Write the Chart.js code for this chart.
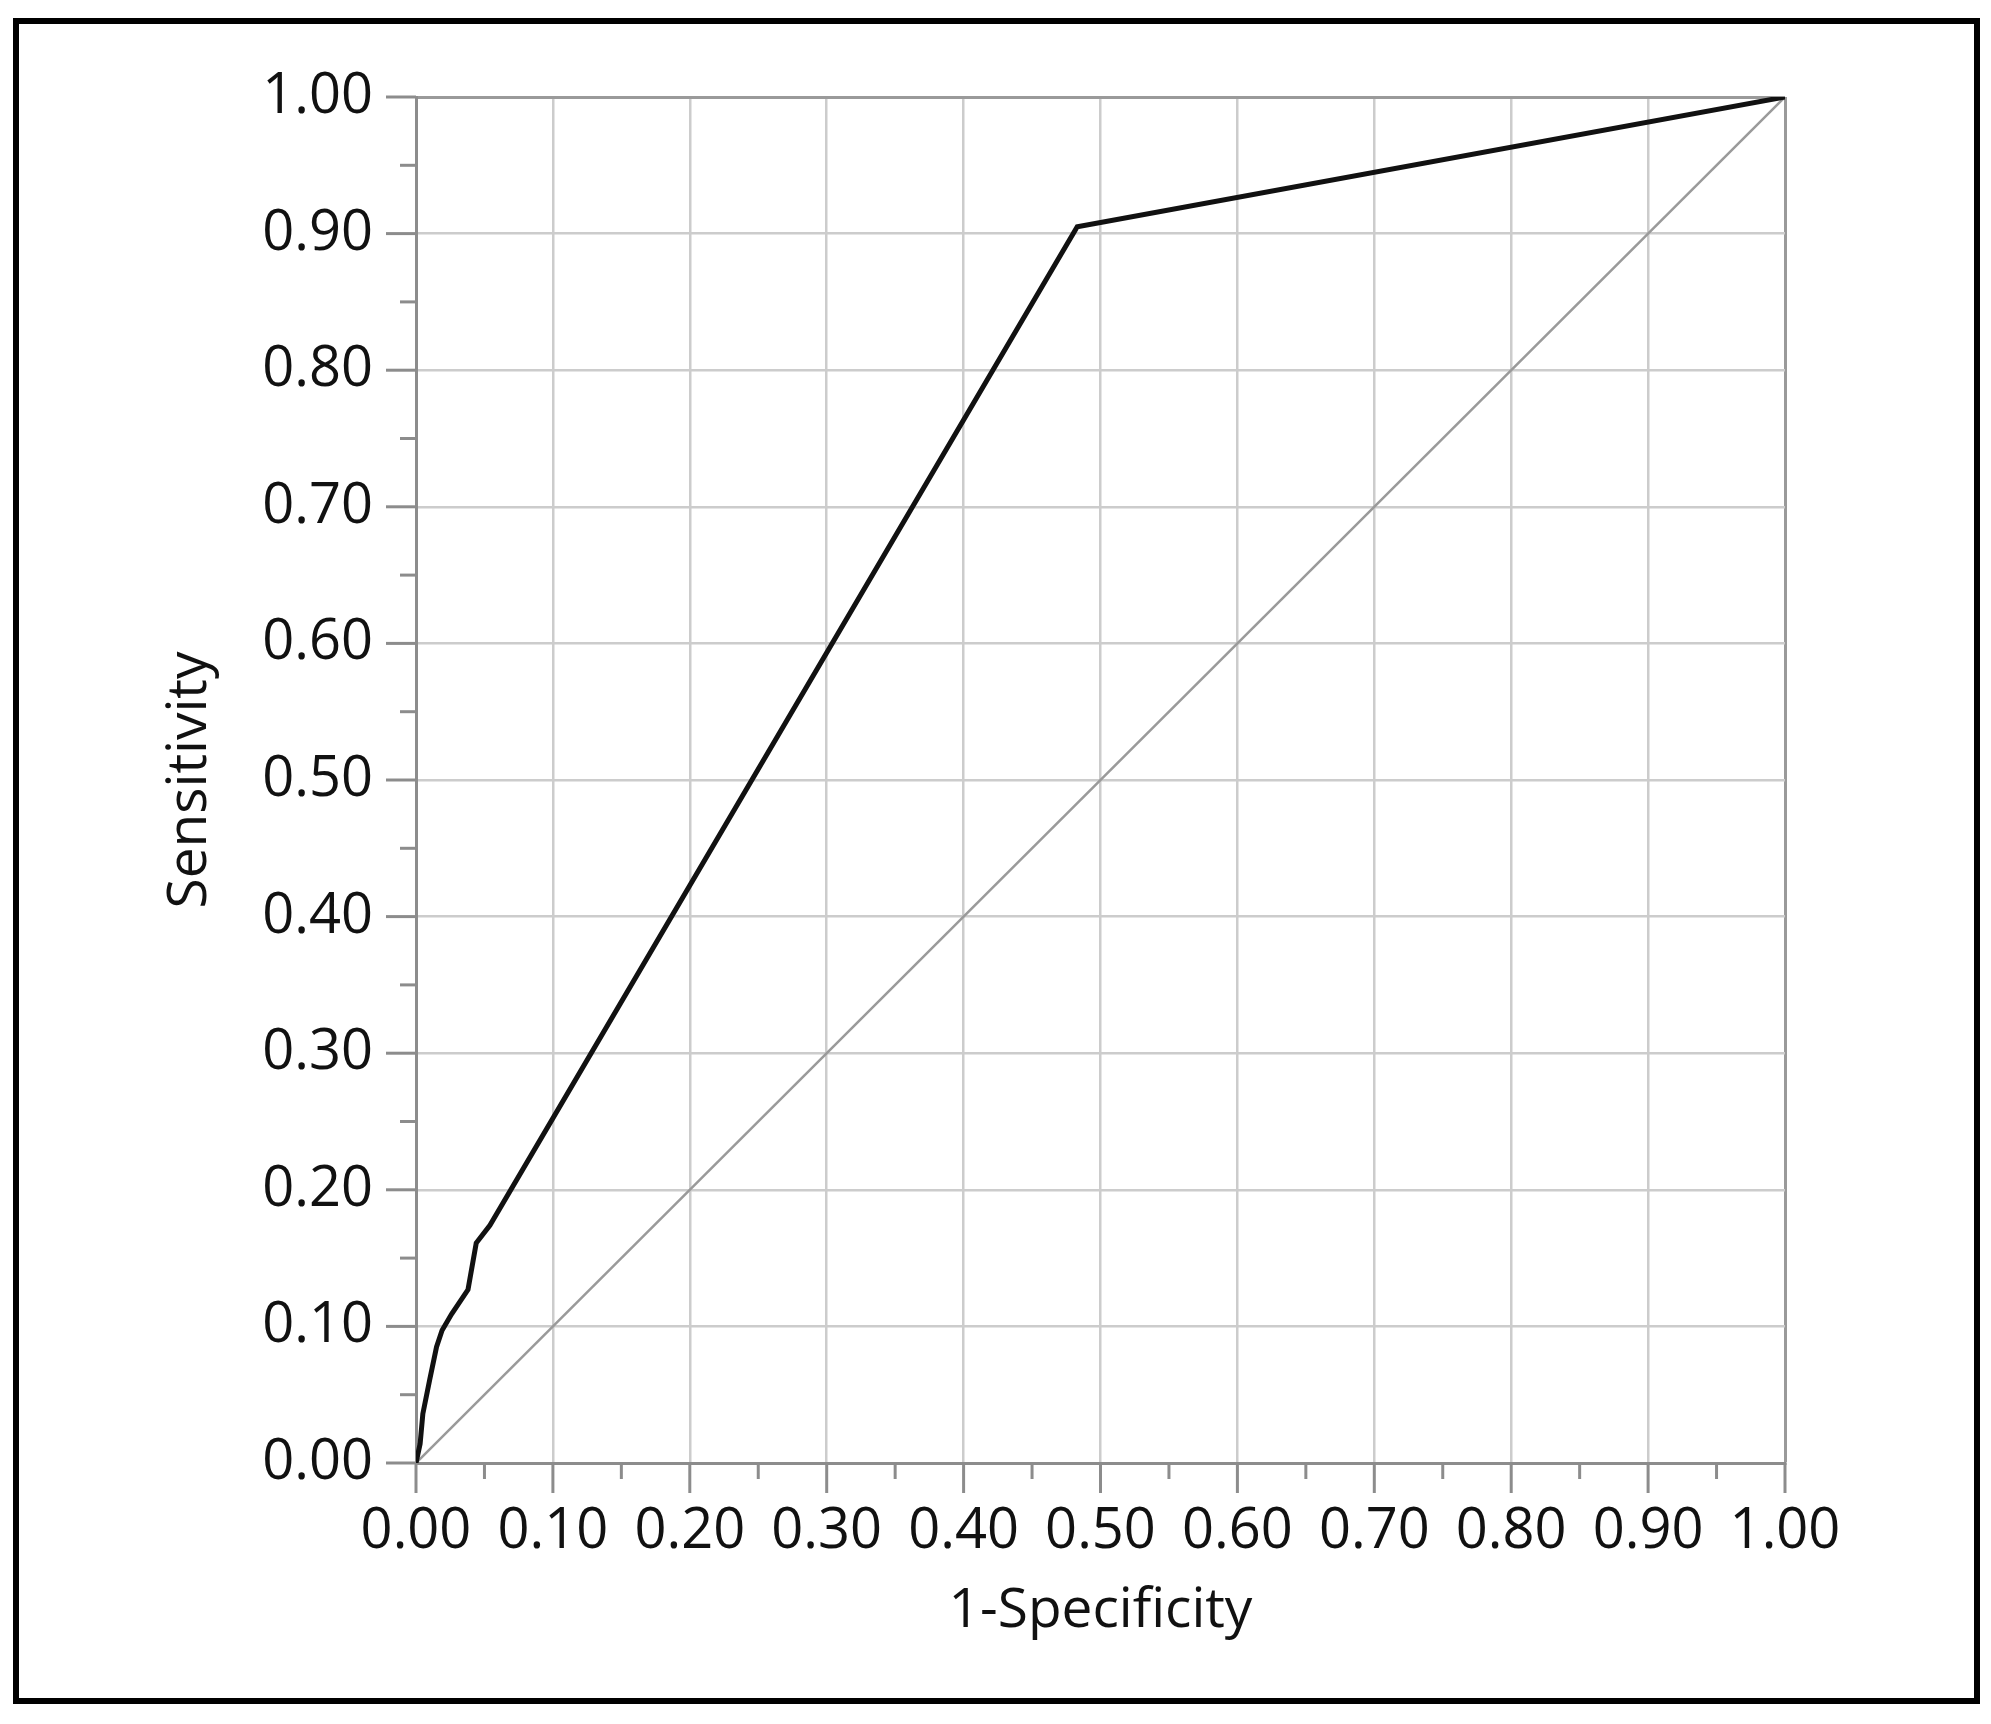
<!DOCTYPE html>
<html lang="en">
<head>
    <meta charset="UTF-8">
    <title>ROC curve</title>
    <style>
        html, body {
            margin: 0;
            padding: 0;
            background: white;
        }
        #wrap {
            position: relative;
            width: 1991px;
            height: 1724px;
        }
        #frame {
            position: absolute;
            left: 13px;
            top: 18px;
            width: 1967px;
            height: 1686px;
            box-sizing: border-box;
            border: 6px solid black;
            pointer-events: none;
        }
        canvas {
            position: absolute;
            left: 0;
            top: 0;
        }
    </style>
    <script src="https://cdn.jsdelivr.net/npm/chart.js"></script>
</head>
<body>
    <div id="wrap">
        <canvas id="roc" width="1991" height="1724"></canvas>
        <div id="frame"></div>
    </div>
    <script>
        // ROC curve
        var rocX = [0, 0.003, 0.005, 0.010, 0.015, 0.019, 0.026, 0.038, 0.044, 0.054, 0.483, 1.0];
        var rocY = [0, 0.014, 0.036, 0.061, 0.085, 0.097, 0.109, 0.127, 0.161, 0.174, 0.905, 1.0];

        // reference diagonal
        var diagX = [0, 1];
        var diagY = [0, 1];

        var majorTicks = [0, 0.1, 0.2, 0.3, 0.4, 0.5, 0.6, 0.7, 0.8, 0.9, 1.0];
        var minorTicks = [0.05, 0.15, 0.25, 0.35, 0.45, 0.55, 0.65, 0.75, 0.85, 0.95];

        function points(xs, ys) {
            return xs.map(function (x, i) { return { x: x, y: ys[i] }; });
        }

        var fontFamily = "'Open Sans', 'DejaVu Sans', sans-serif";
        var textColor = '#111111';

        // draws the outward tick marks (long majors, short minors)
        var tickMarks = {
            id: 'tickMarks',
            afterDraw: function (chart) {
                var ctx = chart.ctx;
                var xs = chart.scales.x;
                var ys = chart.scales.y;
                var area = chart.chartArea;
                ctx.save();
                ctx.strokeStyle = '#8c8c8c';
                ctx.lineCap = 'butt';
                function mark(list, len, w) {
                    ctx.lineWidth = w;
                    list.forEach(function (v) {
                        var px = xs.getPixelForValue(v);
                        ctx.beginPath();
                        ctx.moveTo(px, area.bottom);
                        ctx.lineTo(px, area.bottom + len);
                        ctx.stroke();
                        var py = ys.getPixelForValue(v);
                        ctx.beginPath();
                        ctx.moveTo(area.left, py);
                        ctx.lineTo(area.left - len, py);
                        ctx.stroke();
                    });
                }
                mark(majorTicks, 30, 3);
                mark(minorTicks, 16, 3);
                ctx.restore();
            }
        };

        function gridColor(c) {
            if (c.tick && Math.abs(c.tick.value - 1) < 1e-6) return '#9a9a9a';
            return '#cccccc';
        }
        function gridWidth(c) {
            if (c.tick && Math.abs(c.tick.value - 1) < 1e-6) return 3;
            return 2.5;
        }

        var config = {
            type: 'scatter',
            data: {
                datasets: [{
                    label: 'Diagonal',
                    data: points(diagX, diagY),
                    showLine: true,
                    borderColor: '#9a9a9a',
                    borderWidth: 2.5,
                    pointRadius: 0,
                    order: 2
                }, {
                    label: 'ROC',
                    data: points(rocX, rocY),
                    showLine: true,
                    borderColor: '#111111',
                    borderWidth: 5,
                    pointRadius: 0,
                    order: 1
                }]
            },
            options: {
                responsive: false,
                animation: false,
                layout: {
                    padding: { left: 0, top: 97, right: 206, bottom: 0 }
                },
                plugins: {
                    legend: { display: false },
                    tooltip: { enabled: false }
                },
                scales: {
                    x: {
                        type: 'linear',
                        min: 0,
                        max: 1,
                        afterFit: function (s) { s.height = 261; },
                        ticks: {
                            stepSize: 0.1,
                            padding: 35,
                            color: textColor,
                            font: { family: fontFamily, size: 56 },
                            maxRotation: 0,
                            callback: function (v) { return Number(v).toFixed(2); }
                        },
                        grid: { drawTicks: false, color: gridColor, lineWidth: gridWidth },
                        border: { color: '#8c8c8c', width: 3 },
                        title: {
                            display: true,
                            text: '1-Specificity',
                            color: textColor,
                            font: { family: fontFamily, size: 55 },
                            padding: { top: 0, bottom: 80 }
                        }
                    },
                    y: {
                        type: 'linear',
                        min: 0,
                        max: 1,
                        afterFit: function (s) { s.width = 416; },
                        ticks: {
                            stepSize: 0.1,
                            padding: 43,
                            color: textColor,
                            font: { family: fontFamily, size: 56 },
                            callback: function (v) { return Number(v).toFixed(2); }
                        },
                        grid: { drawTicks: false, color: gridColor, lineWidth: gridWidth },
                        border: { color: '#8c8c8c', width: 3 },
                        title: {
                            display: true,
                            text: 'Sensitivity',
                            color: textColor,
                            font: { family: fontFamily, size: 55 },
                            padding: { top: 157, bottom: 0 }
                        }
                    }
                }
            },
            plugins: [tickMarks]
        };

        var rocChart = new Chart(document.getElementById('roc'), config);
    </script>
</body>
</html>
